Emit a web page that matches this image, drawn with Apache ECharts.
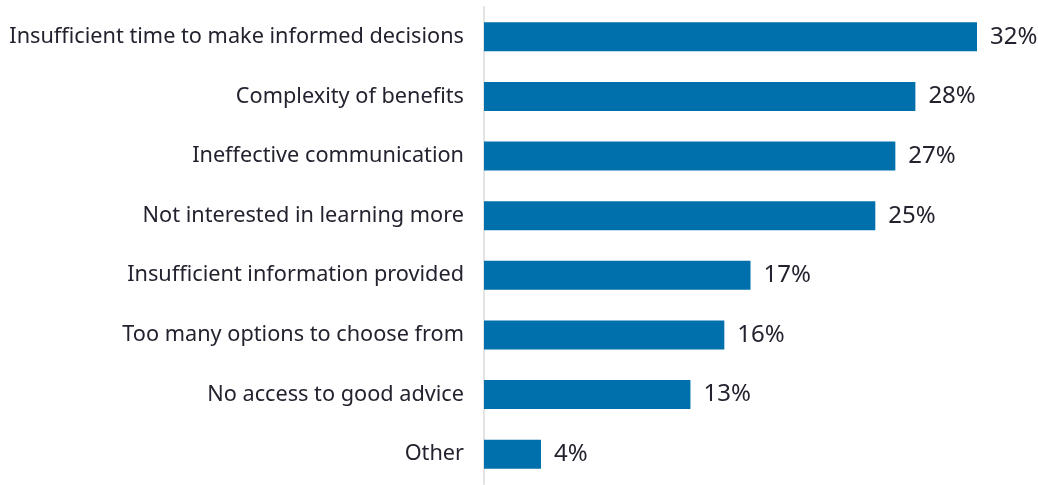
<!DOCTYPE html>
<html>
<head>
<meta charset="utf-8">
<script src="https://cdn.jsdelivr.net/npm/echarts@6/dist/echarts.min.js"></script>
<style>
  html, body { margin: 0; padding: 0; background: #fff; }
  #chart { width: 1038px; height: 485px; }
</style>
</head>
<body>
<div id="chart"></div>
<script>
var categories = [
  "Insufficient time to make informed decisions",
  "Complexity of benefits",
  "Ineffective communication",
  "Not interested in learning more",
  "Insufficient information provided",
  "Too many options to choose from",
  "No access to good advice",
  "Other"
];
// share of respondents, %
var values = [32, 28.0, 26.7, 25.4, 17.3, 15.6, 13.4, 3.7];

var chart = echarts.init(document.getElementById("chart"));
var option = {
  animation: false,
  grid: {
    left: 484,
    right: 61,
    top: 7,
    bottom: 1
  },
  xAxis: {
    type: "value",
    min: 0,
    max: 32,
    show: false
  },
  yAxis: {
    type: "category",
    inverse: true,
    data: categories,
    axisTick: { show: false },
    axisLine: {
      lineStyle: { color: "#e3e3e3", width: 2 }
    },
    axisLabel: {
      margin: 20,
      padding: [4, 0, 0, 0],
      color: "#23232f",
      fontSize: 21.7,
      fontFamily: "Noto Sans"
    }
  },
  series: [
    {
      type: "bar",
      data: values,
      barWidth: 29,
      itemStyle: { color: "#0070ad" },
      label: {
        show: true,
        position: "right",
        distance: 13,
        padding: [3, 0, 0, 0],
        color: "#23232f",
        fontSize: 24,
        fontFamily: "Noto Sans",
        formatter: function (p) {
          return Math.round(p.value) + "%";
        }
      }
    }
  ]
};
chart.setOption(option);
</script>
</body>
</html>
